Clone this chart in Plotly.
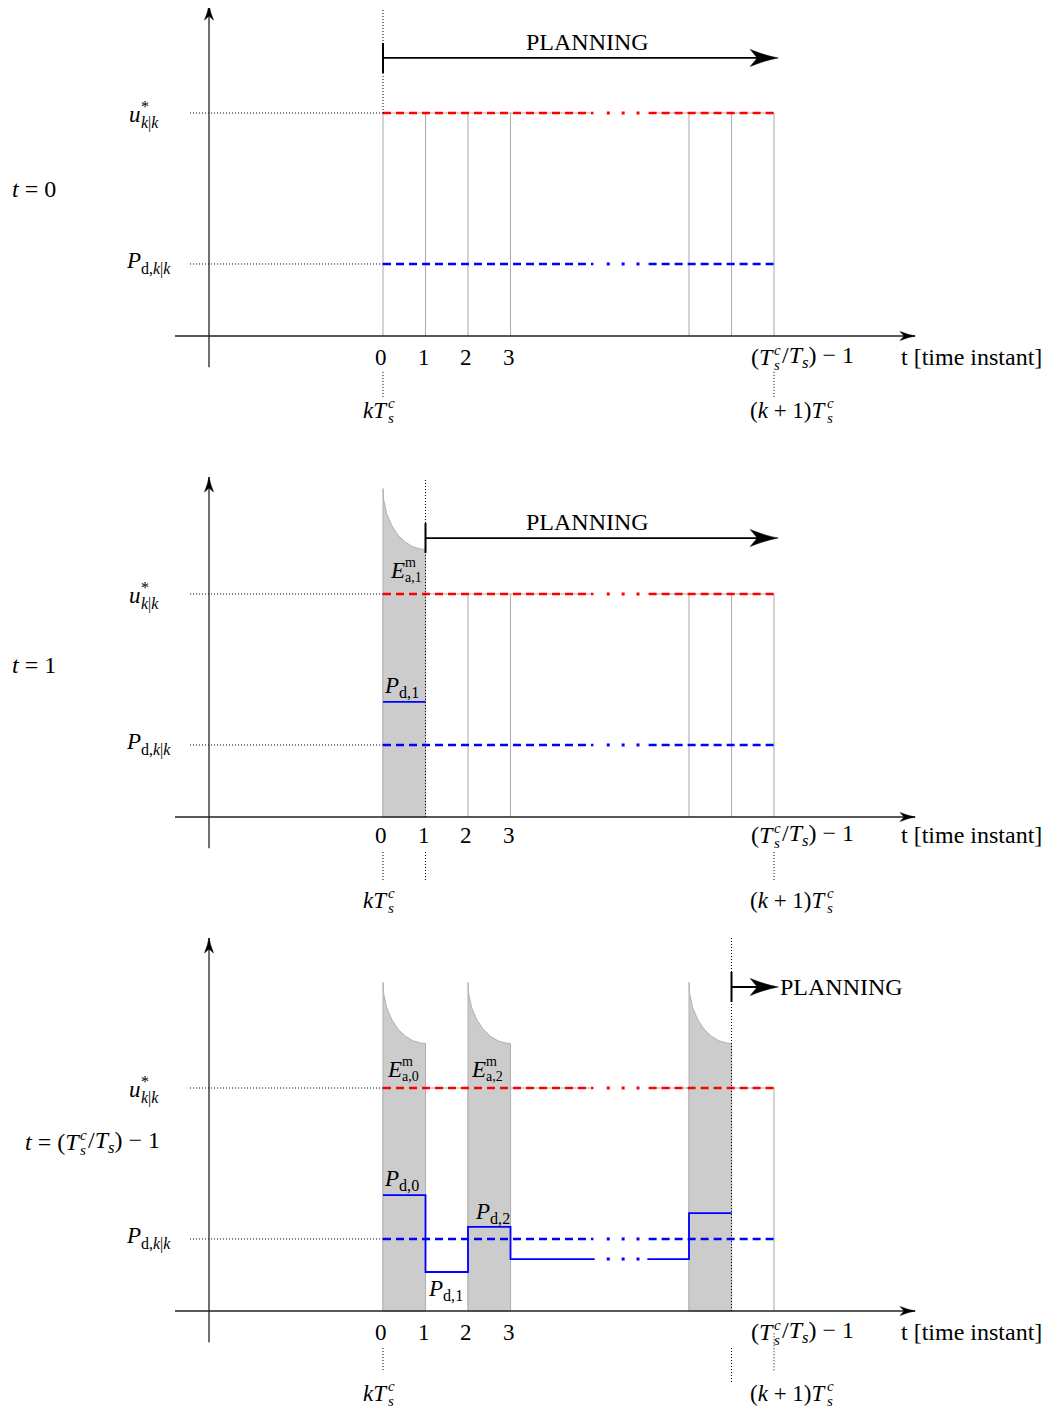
import numpy as np
import plotly.graph_objects as go

# ---------------- data ----------------
instants = [0, 1, 2, 3, 7.2, 8.2, 9.2]        # drawn positions of the time instants (gap = elided instants)
tick_instants = [0, 1, 2, 3]
tick_text = ["0", "1", "2", "3"]
horizon_end = 9.2                              # (Ts^c/Ts) - 1
gap_start, gap_end = 4.95, 6.25               # elided part "· · ·"
gap_dots = [5.3, 5.65, 6.0]
u_star = 1.0
pd_ref = 0.323
energy_top = 1.473
energy_bottom = 1.2

current_t = [0, 1, 8.2]                        # current instant in each panel
shaded = [[], [0], [0, 2, 7.2]]                # intervals with measured energy
planning_y = [1.247, 1.251, 1.453]
planning_end = 9.3

pd_t1_x = [0, 1]
pd_t1_y = [0.516, 0.516]
pd_steps_x = [0, 1, 2, 3, 4.98]
pd_steps_y = [0.52, 0.175, 0.377, 0.233, 0.233]
pd_tail_x = [6.22, 7.2, 8.2]
pd_tail_y = [0.233, 0.439, 0.439]

# ---------------- geometry ----------------
PAGE_OFFSET = 8                       # default body margin of the html page
W, H = 1052 - 2 * PAGE_OFFSET, 1410 - PAGE_OFFSET
X_ORIGIN_PX = 383 - PAGE_OFFSET
PX_X = 42.5
PX_Y = 223
panel_axis_px = [p - PAGE_OFFSET for p in (336, 817, 1311)]
panel_bounds_px = [(0, 432), (432, 917), (917, H)]
x_range = [(0 - X_ORIGIN_PX) / PX_X, (W - X_ORIGIN_PX) / PX_X]

X_AXIS_LEFT, X_AXIS_TIP = -4.894, 12.52
Y_AXIS_X, Y_AXIS_BOTTOM = -4.094, -0.14
y_axis_tops = [1.484, 1.525, 1.673]
GUIDE_LEFT = -4.54
LABEL_X = -5.69
T_LABEL_X = -8.73
t_label_y = [0.659, 0.682, 0.758]
cur_dotted = [(u_star, 1.471), (0, 1.52), (0, 1.673)]
below_dotted = [
    [(0, -0.161, -0.274), (horizon_end, -0.161, -0.274)],
    [(0, -0.157, -0.283), (1, -0.157, -0.283), (horizon_end, -0.157, -0.283)],
    [(0, -0.166, -0.274), (8.2, -0.166, -0.323), (horizon_end, -0.1, -0.274)],
]
tick_dy = [-21, -18, -21]
kt_dy = [-74, -83, -82]

FONT = "Liberation Serif"
FS = 23
RED = "#ff0000"
BLUE = "#0000ff"
GRAY = "#b0b0b0"
FILL = "#cccccc"
AXC = "#222222"

fig = go.Figure()


def names(i):
    return ("x" if i == 0 else f"x{i+1}", "y" if i == 0 else f"y{i+1}")


def trace(i, **kw):
    xr, yr = names(i)
    kw.setdefault("mode", "lines")
    fig.add_trace(go.Scatter(xaxis=xr, yaxis=yr, hoverinfo="skip", showlegend=False, **kw))


def seg(i, x0, y0, x1, y1, color=AXC, width=1.3, dash="solid"):
    xr, yr = names(i)
    fig.add_shape(type="line", xref=xr, yref=yr, x0=x0, y0=y0, x1=x1, y1=y1,
                  line=dict(color=color, width=width, dash=dash))


def head(i, x, y, path):
    xr, yr = names(i)
    fig.add_shape(type="path", xref=xr, yref=yr, xsizemode="pixel", ysizemode="pixel",
                  xanchor=x, yanchor=y, path=path, fillcolor="black",
                  line=dict(color="black", width=0.5))


BIG_RIGHT = "M0,0 Q-12,2 -28,8.5 L-21,0 L-28,-8.5 Q-12,-2 0,0 Z"
SMALL_RIGHT = "M0,0 Q-7,1.2 -15,4.5 L-11,0 L-15,-4.5 Q-7,-1.2 0,0 Z"
SMALL_UP = "M0,0 Q1.2,-7 4.5,-15 L0,-11 L-4.5,-15 Q-1.2,-7 0,0 Z"


def ann(i, x, y, text, size=FS, xanchor="center", xshift=0, yshift=0):
    xr, yr = names(i)
    fig.add_annotation(x=x, y=y, xref=xr, yref=yr, text=text, showarrow=False,
                       font=dict(family=FONT, size=size, color="black"),
                       xanchor=xanchor, yanchor="middle", xshift=xshift, yshift=yshift,
                       borderpad=0, borderwidth=0)


def scripted(i, x, y, base, sup=None, sub=None, xshift=0, yshift=0, size=FS,
             sup_dy=7, sub_dy=-8, after=None, script_w=7, ss=15):
    ann(i, x, y, base, size, "right", xshift=xshift, yshift=yshift)
    if sup:
        ann(i, x, y, sup, ss, "left", xshift=xshift, yshift=yshift + sup_dy)
    if sub:
        ann(i, x, y, sub, ss, "left", xshift=xshift, yshift=yshift + sub_dy)
    if after:
        ann(i, x, y, after, size, "left", xshift=xshift + script_w, yshift=yshift)


theta = np.linspace(0, np.pi / 2, 40)

for i in range(3):
    # grid of the planning horizon
    gx, gy = [], []
    for t in instants:
        gx += [t, t, None]
        gy += [0, u_star, None]
    trace(i, x=gx, y=gy, line=dict(color=GRAY, width=1.1))
    trace(i, x=[0, gap_start, None, gap_end, horizon_end], y=[u_star, u_star, None, u_star, u_star],
          line=dict(color=GRAY, width=1.1))

    # measured-energy areas
    for x0 in shaded[i]:
        cx = list(x0 + (1 - np.cos(theta)))
        cy = list(energy_top - (energy_top - energy_bottom) * np.sin(theta))
        trace(i, x=[x0, x0] + cx + [x0 + 1, x0 + 1, x0], y=[0, energy_top] + cy + [energy_bottom, 0, 0],
              fill="toself", fillcolor=FILL, line=dict(color=GRAY, width=1))

    # reference levels
    trace(i, x=[0, gap_start, None, gap_end, horizon_end], y=[u_star, u_star, None, u_star, u_star],
          line=dict(color=RED, width=2.4, dash="8px,5px"))
    trace(i, x=gap_dots, y=[u_star] * 3, mode="markers",
          marker=dict(color=RED, size=3, symbol="square", line=dict(width=0)))
    trace(i, x=[0, gap_start, None, gap_end, horizon_end], y=[pd_ref, pd_ref, None, pd_ref, pd_ref],
          line=dict(color=BLUE, width=2.4, dash="8px,5px"))
    trace(i, x=gap_dots, y=[pd_ref] * 3, mode="markers",
          marker=dict(color=BLUE, size=3, symbol="square", line=dict(width=0)))

    # guides to the level labels
    seg(i, GUIDE_LEFT, u_star, 0, u_star, color="black", width=1, dash="1px,2px")
    seg(i, GUIDE_LEFT, pd_ref, 0, pd_ref, color="black", width=1, dash="1px,2px")

    # axes
    seg(i, X_AXIS_LEFT, 0, X_AXIS_TIP, 0)
    head(i, X_AXIS_TIP, 0, SMALL_RIGHT)
    seg(i, Y_AXIS_X, Y_AXIS_BOTTOM, Y_AXIS_X, y_axis_tops[i])
    head(i, Y_AXIS_X, y_axis_tops[i], SMALL_UP)

    # current instant
    y0, y1 = cur_dotted[i]
    seg(i, current_t[i], y0, current_t[i], y1, color="black", width=1, dash="1px,2px")
    for (bx, b0, b1) in below_dotted[i]:
        seg(i, bx, b0, bx, b1, color="black", width=1, dash="1px,2px")

    # planning arrow
    py = planning_y[i]
    seg(i, current_t[i], py, planning_end - 0.3, py, color="black", width=1.8)
    head(i, planning_end, py, BIG_RIGHT)
    xr, yr = names(i)
    fig.add_shape(type="line", xref=xr, yref=yr, x0=current_t[i], x1=current_t[i],
                  ysizemode="pixel", yanchor=py, y0=-15, y1=15, line=dict(color="black", width=2))
    if i < 2:
        ann(i, 4.8, py, "PLANNING", 24, "center", yshift=16)
    else:
        ann(i, planning_end, py, "PLANNING", 24, "left", xshift=2)

    # tick labels
    for t, s in zip(tick_instants, tick_text):
        ann(i, t, 0, s, FS, "center", xshift=-2, yshift=tick_dy[i])
    scripted(i, horizon_end, 0, "(<i>T</i>", "<i>c</i>", "<i>s</i>", xshift=0, yshift=tick_dy[i],
             after="/<i>T</i><sub><i>s</i></sub>) − 1", size=24, script_w=8)
    ann(i, X_AXIS_TIP - 0.33, 0, "t [time instant]", 24, "left", yshift=tick_dy[i])
    scripted(i, 0, 0, "<i>kT</i>", "<i>c</i>", "<i>s</i>", xshift=5, yshift=kt_dy[i])
    scripted(i, horizon_end, 0, "(<i>k</i> + 1)<i>T</i>", "<i>c</i>", "<i>s</i>", xshift=53, yshift=kt_dy[i])

    # level labels
    scripted(i, LABEL_X, u_star, "<i>u</i>", "*", "<i>k</i>|<i>k</i>", yshift=-1, sup_dy=8, sub_dy=-9, ss=16)
    scripted(i, LABEL_X, pd_ref, "<i>P</i>", None, "d,<i>k</i>|<i>k</i>", yshift=3, sub_dy=-8, ss=16)

# panel titles
ann(0, T_LABEL_X, t_label_y[0], "<i>t</i> = 0", 24, "left")
ann(1, T_LABEL_X, t_label_y[1], "<i>t</i> = 1", 24, "left")
scripted(2, -7.12, t_label_y[2], "<i>t</i> = (<i>T</i>", "<i>c</i>", "<i>s</i>",
         after="/<i>T</i><sub><i>s</i></sub>) − 1", size=24, script_w=8)

# panel 2 (t = 1)
trace(1, x=pd_t1_x, y=pd_t1_y, line=dict(color=BLUE, width=1.8))
ann(1, 0, pd_t1_y[0], "<i>P</i><sub>d,1</sub>", FS, "left", xshift=1, yshift=15)
scripted(1, 0, u_star, "<i>E</i>", "m", "a,1", xshift=22, yshift=24, sup_dy=8, sub_dy=-7, ss=14)

# panel 3 (t = Tsc/Ts - 1)
trace(2, x=pd_steps_x, y=pd_steps_y, line=dict(color=BLUE, width=1.8, shape="hv"))
trace(2, x=pd_tail_x, y=pd_tail_y, line=dict(color=BLUE, width=1.8, shape="hv"))
trace(2, x=gap_dots, y=[pd_steps_y[-1]] * 3, mode="markers",
      marker=dict(color=BLUE, size=3, symbol="square", line=dict(width=0)))
ann(2, 0, pd_steps_y[0], "<i>P</i><sub>d,0</sub>", FS, "left", xshift=1, yshift=15)
ann(2, 1, pd_steps_y[1], "<i>P</i><sub>d,1</sub>", FS, "left", xshift=2, yshift=-18)
ann(2, 2, pd_steps_y[2], "<i>P</i><sub>d,2</sub>", FS, "left", xshift=7, yshift=14)
scripted(2, 0, u_star, "<i>E</i>", "m", "a,0", xshift=19, yshift=19, sup_dy=8, sub_dy=-7, ss=14)
scripted(2, 2, u_star, "<i>E</i>", "m", "a,2", xshift=18, yshift=19, sup_dy=8, sub_dy=-7, ss=14)

# ---------------- layout ----------------
layout = dict(width=W, height=H, autosize=False, margin=dict(l=0, r=0, t=0, b=0),
              paper_bgcolor="white", plot_bgcolor="white", showlegend=False)
for i in range(3):
    top, bot = panel_bounds_px[i]
    ax = panel_axis_px[i]
    xk = "xaxis" if i == 0 else f"xaxis{i+1}"
    yk = "yaxis" if i == 0 else f"yaxis{i+1}"
    xr, yr = names(i)
    layout[xk] = dict(range=x_range, domain=[0, 1], visible=False, fixedrange=True, anchor=yr)
    layout[yk] = dict(range=[(ax - bot) / PX_Y, (ax - top) / PX_Y],
                      domain=[1 - bot / H, 1 - top / H], visible=False, fixedrange=True, anchor=xr)
fig.update_layout(**layout)

fig.write_html("out.html")
